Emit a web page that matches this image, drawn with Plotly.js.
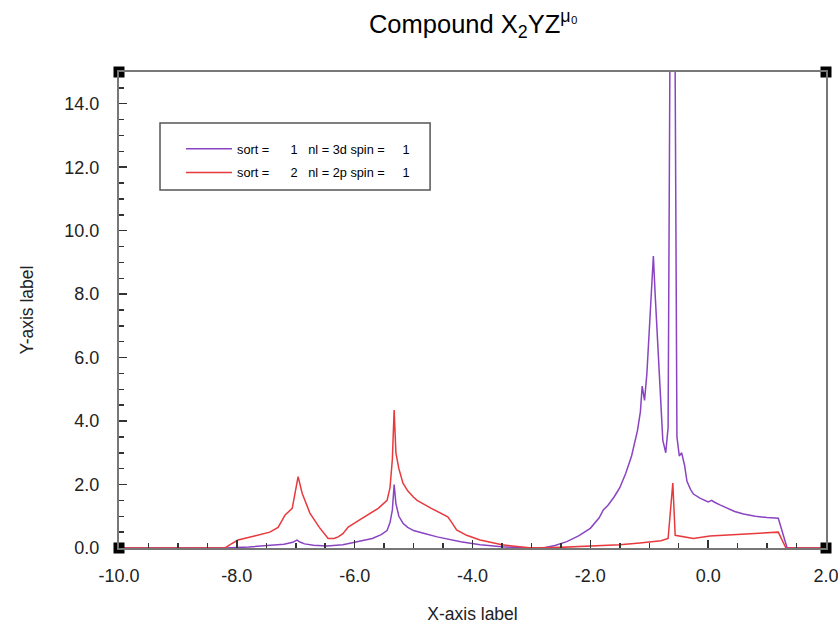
<!DOCTYPE html>
<html>
<head>
<meta charset="utf-8">
<script src="https://cdn.plot.ly/plotly-3.0.1.min.js"></script>
<style>html,body{margin:0;padding:0;background:#fff;}#chart{width:838px;height:625px;}</style>
</head>
<body>
<div id="chart"></div>
<script>
// Series 1: sort = 1, nl = 3d
const x1 = [-10, -8.2, -7.8, -7.5, -7.2, -7.05, -6.98, -6.92, -6.85, -6.7, -6.47, -6.2, -5.96, -5.7, -5.55, -5.45, -5.4, -5.36, -5.33, -5.3, -5.25, -5.18, -5.1, -5.0, -4.8, -4.6, -4.2, -3.87, -3.5, -3.1, -2.8, -2.6, -2.4, -2.2, -2.0, -1.85, -1.78, -1.7, -1.6, -1.5, -1.4, -1.3, -1.2, -1.15, -1.12, -1.08, -1.04, -1.0, -0.96, -0.93, -0.9, -0.86, -0.82, -0.77, -0.72, -0.68, -0.605, -0.53, -0.49, -0.45, -0.4, -0.36, -0.3, -0.25, -0.14, 0.0, 0.06, 0.1, 0.2, 0.3, 0.45, 0.6, 0.8, 1.0, 1.19, 1.34, 2.0];
const y1 = [0, 0, 0.03, 0.07, 0.12, 0.18, 0.25, 0.18, 0.13, 0.09, 0.06, 0.1, 0.19, 0.3, 0.42, 0.55, 0.8, 1.2, 2.0, 1.4, 1.0, 0.78, 0.65, 0.55, 0.45, 0.35, 0.2, 0.1, 0.04, 0.0, 0.0, 0.08, 0.2, 0.38, 0.62, 0.95, 1.2, 1.35, 1.6, 1.9, 2.35, 2.9, 3.7, 4.3, 5.1, 4.65, 5.5, 6.8, 8.3, 9.2, 8.0, 6.5, 4.8, 3.4, 3.0, 3.8, 32, 3.5, 2.9, 3.0, 2.6, 2.1, 1.85, 1.7, 1.57, 1.45, 1.5, 1.45, 1.36, 1.27, 1.15, 1.07, 1.0, 0.96, 0.94, 0, 0];
// Series 2: sort = 2, nl = 2p
const x2 = [-10, -8.2, -8.1, -7.98, -7.7, -7.44, -7.3, -7.18, -7.06, -6.96, -6.89, -6.76, -6.6, -6.45, -6.35, -6.28, -6.2, -6.11, -5.95, -5.79, -5.6, -5.45, -5.4, -5.36, -5.33, -5.3, -5.25, -5.18, -5.1, -5.0, -4.94, -4.7, -4.42, -4.35, -4.27, -4.1, -3.87, -3.5, -3.0, -2.5, -2.0, -1.5, -1.16, -0.99, -0.8, -0.68, -0.6, -0.56, -0.5, -0.43, -0.25, 0.03, 0.5, 1.19, 1.32, 2.0];
const y2 = [0, 0, 0.12, 0.25, 0.38, 0.5, 0.65, 1.04, 1.25, 2.25, 1.72, 1.1, 0.65, 0.3, 0.3, 0.35, 0.45, 0.66, 0.85, 1.04, 1.25, 1.5, 1.9, 2.8, 4.35, 3.0, 2.5, 2.04, 1.8, 1.6, 1.5, 1.25, 0.98, 0.8, 0.57, 0.4, 0.25, 0.1, 0.0, 0.02, 0.05, 0.1, 0.16, 0.2, 0.23, 0.3, 2.05, 0.4, 0.38, 0.35, 0.3, 0.38, 0.42, 0.5, 0, 0];
// Corner markers of the frame
const cornerX = [-10, 2, -10, 2];
const cornerY = [0, 0, 15, 15];
const names = ['sort =\u00a0\u00a0\u00a0\u00a0\u00a0\u00a01\u00a0\u00a0\u00a0nl = 3d spin =\u00a0\u00a0\u00a0\u00a0\u00a01',
               'sort =\u00a0\u00a0\u00a0\u00a0\u00a0\u00a02\u00a0\u00a0\u00a0nl = 2p spin =\u00a0\u00a0\u00a0\u00a0\u00a01'];
const xTicks = [-10, -8, -6, -4, -2, 0, 2];
const xTickText = ['-10.0', '-8.0', '-6.0', '-4.0', '-2.0', '0.0', '2.0'];
const yTicks = [0, 2, 4, 6, 8, 10, 12, 14];
const yTickText = ['0.0', '2.0', '4.0', '6.0', '8.0', '10.0', '12.0', '14.0'];

const font = 'Liberation Sans, Arial, Helvetica, sans-serif';
const traces = [
  {x: x1, y: y1, type: 'scatter', mode: 'lines', name: names[0], legendgroup: 'a',
   line: {color: '#8a44c2', width: 1.5}},
  {x: x2, y: y2, type: 'scatter', mode: 'lines', name: names[1], legendgroup: 'b',
   line: {color: '#e8393c', width: 1.5}},
  {x: cornerX, y: cornerY, type: 'scatter', mode: 'markers', showlegend: false, cliponaxis: false,
   marker: {symbol: 'square', size: 11, color: '#000', line: {width: 0}}, hoverinfo: 'skip'}
];
const axisCommon = {
  showline: true, linecolor: '#777', linewidth: 2, mirror: true,
  ticks: 'inside', ticklen: 8, tickwidth: 1.5, tickcolor: '#333',
  showgrid: false, zeroline: false,
  tickfont: {family: font, size: 18, color: '#222'},
  tickmode: 'array', ticklabeloverflow: 'allow'
};
const layout = {
  width: 838, height: 625,
  margin: {l: 119, r: 12, t: 72, b: 77},
  paper_bgcolor: '#fff', plot_bgcolor: '#fff',
  showlegend: true,
  title: {text: 'Compound X<sub>2</sub>YZ<sup>μ₀</sup>', font: {family: font, size: 25.5, color: '#000'},
          x: 0.565, xanchor: 'center', y: 0.962, yanchor: 'middle'},
  xaxis: Object.assign({}, axisCommon, {
    range: [-10, 2], tickvals: xTicks, ticktext: xTickText, ticklabelstandoff: 10,
    minor: {dtick: 0.5, ticks: 'inside', ticklen: 5, tickwidth: 1.5, tickcolor: '#333', showgrid: false},
    title: {text: 'X-axis label', font: {family: font, size: 17.5, color: '#222'}, standoff: 23}
  }),
  yaxis: Object.assign({}, axisCommon, {
    range: [0, 15], tickvals: yTicks, ticktext: yTickText, ticklabelstandoff: 14,
    minor: {dtick: 0.5, ticks: 'inside', ticklen: 5, tickwidth: 1.5, tickcolor: '#333', showgrid: false},
    title: {text: 'Y-axis label', font: {family: font, size: 17.5, color: '#222'}, standoff: 26}
  }),
  shapes: [
    {type: 'rect', xref: 'paper', yref: 'paper', x0: 0.058, x1: 0.44, y0: 0.752, y1: 0.8929,
     line: {color: '#555', width: 1.5}, fillcolor: 'rgba(0,0,0,0)', layer: 'above'}
  ],
  legend: {
    x: 0.0877, y: 0.8697, xanchor: 'left', yanchor: 'top',
    borderwidth: 0, bgcolor: 'rgba(0,0,0,0)',
    font: {family: font, size: 12.75, color: '#000'},
    itemwidth: 46,
    traceorder: 'grouped', tracegroupgap: 4
  }
};
Plotly.newPlot('chart', traces, layout, {displayModeBar: false, staticPlot: true});
</script>
</body>
</html>
